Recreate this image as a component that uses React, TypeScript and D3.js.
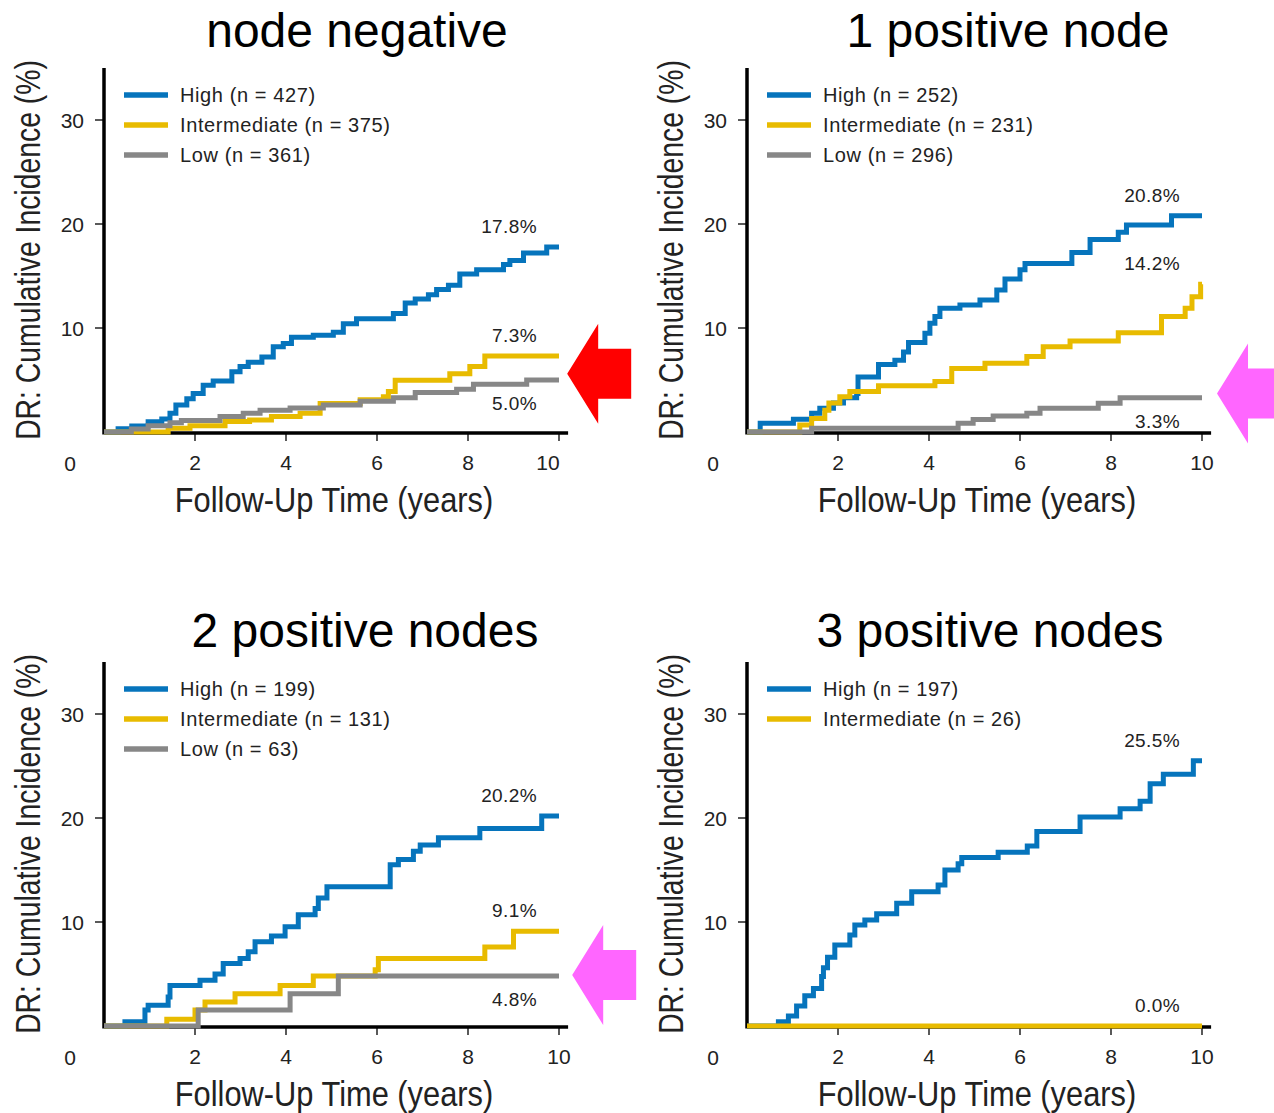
import React from 'react';
import * as d3 from 'd3';

type Pt = [number, number];

const X_TICKS = [2, 4, 6, 8, 10];
const Y_TICKS = [10, 20, 30];
const GROUP_NAMES = ['High', 'Intermediate', 'Low'];
const GROUP_COLORS = ['#0674bc', '#e8bb00', '#878787'];

// node negative
const nnHigh: Pt[] = [[0,0],[0.31,0.32],[0.61,0.58],[0.97,0.99],[1.27,1.25],[1.45,1.8],[1.58,2.6],[1.82,3.2],[1.96,3.7],[2.18,4.5],[2.4,4.9],[2.81,5.8],[2.99,6.3],[3.17,6.7],[3.47,7.2],[3.72,8.2],[3.94,8.5],[4.12,9.1],[4.6,9.3],[5.04,9.6],[5.26,10.4],[5.55,10.9],[6.36,11.4],[6.62,12.4],[6.84,12.8],[7.13,13.2],[7.31,13.7],[7.57,14.1],[7.82,15.2],[8.19,15.6],[8.78,16.1],[8.92,16.5],[9.22,17.2],[9.73,17.8],[10,17.8]];
const nnInt: Pt[] = [[0,0],[1.41,0.35],[1.89,0.6],[2.66,1.0],[3.2,1.15],[3.68,1.5],[4.31,1.8],[4.75,2.75],[5.63,3.1],[6.14,3.4],[6.25,3.9],[6.4,4.97],[7.6,5.6],[8.04,6.3],[8.37,7.3],[10,7.3]];
const nnLow: Pt[] = [[0,0],[0.6,0.3],[0.97,0.6],[1.45,0.9],[1.7,1.1],[2.55,1.5],[3.06,1.8],[3.43,2.1],[4.09,2.3],[4.82,2.6],[5.63,2.95],[6.36,3.3],[6.84,3.8],[7.75,4.1],[8.12,4.6],[9.29,5.0],[10,5.0]];

// 1 positive node
const p1High: Pt[] = [[0,0],[0.29,0.83],[1.02,1.22],[1.42,1.8],[1.6,2.28],[1.9,2.8],[2.12,3.3],[2.41,3.7],[2.44,5.3],[2.89,6.5],[3.25,6.9],[3.44,7.7],[3.55,8.6],[3.91,9.5],[4.02,10.45],[4.13,11.1],[4.24,11.9],[4.68,12.2],[5.12,12.7],[5.49,13.65],[5.67,14.7],[6.0,15.6],[6.11,16.2],[7.14,17.25],[7.54,18.5],[8.16,19.2],[8.34,19.9],[9.33,20.8],[10,20.8]];
const p1Int: Pt[] = [[0,0],[1.16,0.67],[1.42,1.3],[1.71,2.1],[1.8,2.8],[2.04,3.4],[2.26,3.9],[2.89,4.45],[4.13,4.85],[4.5,6.1],[5.23,6.6],[6.15,7.25],[6.51,8.2],[7.1,8.75],[8.16,9.55],[9.11,11.1],[9.63,11.9],[9.78,13.0],[9.97,14.2],[10,14.2]];
const p1Low: Pt[] = [[0,0],[1.42,0.35],[4.64,0.83],[4.97,1.2],[5.41,1.54],[6.15,1.8],[6.44,2.28],[7.72,2.76],[8.2,3.3],[10,3.3]];

// 2 positive nodes
const p2High: Pt[] = [[0,0],[0.46,0.42],[0.9,1.54],[0.97,2.0],[1.41,2.8],[1.45,3.9],[2.11,4.4],[2.44,5.0],[2.62,6.0],[2.99,6.5],[3.17,7.15],[3.32,8.1],[3.68,8.65],[3.98,9.55],[4.27,10.7],[4.64,11.3],[4.71,12.3],[4.9,13.4],[6.29,15.5],[6.47,16.0],[6.8,16.8],[6.95,17.4],[7.35,18.1],[8.26,19.0],[9.62,20.2],[10,20.2]];
const p2Int: Pt[] = [[0,0],[1.38,0.64],[2.0,1.54],[2.22,2.3],[2.88,3.1],[3.87,3.9],[4.6,4.8],[5.96,5.4],[6.03,6.5],[8.37,7.6],[9.0,9.1],[10,9.1]];
const p2Low: Pt[] = [[0,0],[2.07,1.54],[4.09,3.1],[5.15,4.8],[10,4.8]];

// 3 positive nodes
const p3High: Pt[] = [[0,0],[0.69,0.42],[0.91,0.96],[1.09,1.92],[1.27,2.9],[1.46,3.6],[1.64,4.75],[1.68,5.6],[1.77,6.6],[1.93,7.8],[2.26,8.75],[2.37,9.7],[2.59,10.2],[2.85,10.8],[3.29,11.8],[3.62,12.9],[4.2,13.55],[4.35,15.0],[4.64,15.6],[4.72,16.2],[5.52,16.7],[6.16,17.3],[6.37,18.7],[7.32,20.1],[8.2,20.9],[8.64,21.6],[8.86,23.3],[9.15,24.2],[9.81,25.5],[10,25.5]];
const p3Int: Pt[] = [[0,0],[10,0]];

const PANEL_TITLES = ['node negative', '1 positive node', '2 positive nodes', '3 positive nodes'];
const PANEL_N = [[427, 375, 361], [252, 231, 296], [199, 131, 63], [197, 26]];
const PANEL_SERIES = [[nnHigh, nnInt, nnLow], [p1High, p1Int, p1Low], [p2High, p2Int, p2Low], [p3High, p3Int]];
const PANEL_FINALS = [['17.8%', '7.3%', '5.0%'], ['20.8%', '14.2%', '3.3%'], ['20.2%', '9.1%', '4.8%'], ['25.5%', '0.0%']];
const PANEL_LABEL_SIDE = [['above', 'above', 'below'], ['above', 'above', 'below'], ['above', 'above', 'below'], ['above', 'above']];
const Y_TITLE = 'DR: Cumulative Incidence (%)';
const X_TITLE = 'Follow-Up Time (years)';

// layout (pixels) - kept separate from data
const LAYOUT = [
  { x0: 104, y0: 432, titleX: 357, titleY: 47, tenDx: -11, arrow: { t: 10.18, v: 5.6, color: '#ff0000' } },
  { x0: 747, y0: 432, titleX: 1008, titleY: 47, tenDx: 0, arrow: { t: 10.33, v: 3.7, color: '#ff66ff' } },
  { x0: 104, y0: 1026, titleX: 365, titleY: 647, tenDx: 0, arrow: { t: 10.29, v: 4.9, color: '#ff66ff' } },
  { x0: 747, y0: 1026, titleX: 990, titleY: 647, tenDx: 0, arrow: null as any },
];

const FONT = "'Liberation Sans', Arial, sans-serif";
const TXT = '#222';

function Panel({ idx }: { idx: number }) {
  const L = LAYOUT[idx];
  const x = d3.scaleLinear().domain([0, 10]).range([L.x0, L.x0 + 455]);
  const y = d3.scaleLinear().domain([0, 35]).range([L.y0, L.y0 - 364]);
  const line = d3.line<Pt>().x(d => x(d[0])).y(d => y(d[1])).curve(d3.curveStepAfter);
  const series = PANEL_SERIES[idx];
  const top = y(35);
  const arrow = L.arrow;
  let arrowPts = '';
  if (arrow) {
    const tx = x(arrow.t), ty = y(arrow.v);
    arrowPts = [[tx, ty], [tx + 31, ty - 50], [tx + 31, ty - 25], [tx + 64, ty - 25], [tx + 64, ty + 25], [tx + 31, ty + 25], [tx + 31, ty + 50]].map(p => p.join(',')).join(' ');
  }
  return (
    <g>
      <text x={L.titleX} y={L.titleY} textAnchor="middle" fontSize={48} fontFamily={FONT} fill="#000">{PANEL_TITLES[idx]}</text>
      {/* y title: condensed via horizontal scale */}
      <g transform={`translate(${L.x0 - 64},${(L.y0 + top) / 2}) rotate(-90) scale(0.788,1)`}>
        <text x={0} y={0} textAnchor="middle" fontSize={36} fontFamily={FONT} fill={TXT}>{Y_TITLE}</text>
      </g>
      {/* x title */}
      <g transform={`translate(${L.x0 + 230},${L.y0 + 80}) scale(0.856,1)`}>
        <text x={0} y={0} textAnchor="middle" fontSize={36} fontFamily={FONT} fill={TXT}>{X_TITLE}</text>
      </g>
      {/* y ticks */}
      {Y_TICKS.map(t => (
        <g key={'y' + t}>
          <line x1={L.x0 - 9} x2={L.x0} y1={y(t)} y2={y(t)} stroke="#000" strokeWidth={1.3} />
          <text x={L.x0 - 20} y={y(t) + 7.5} textAnchor="end" fontSize={21} fontFamily={FONT} fill={TXT}>{t}</text>
        </g>
      ))}
      {/* x ticks */}
      {X_TICKS.map(t => (
        <g key={'x' + t}>
          <line x1={x(t)} x2={x(t)} y1={L.y0} y2={L.y0 + 9} stroke="#000" strokeWidth={1.3} />
          <text x={x(t) + (t === 10 ? L.tenDx : 0)} y={L.y0 + 38} textAnchor="middle" fontSize={21} fontFamily={FONT} fill={TXT}>{t}</text>
        </g>
      ))}
      <text x={L.x0 - 34} y={L.y0 + 39} textAnchor="middle" fontSize={21} fontFamily={FONT} fill={TXT}>0</text>
      {/* axes */}
      <line x1={L.x0} x2={L.x0} y1={top} y2={L.y0 + 2.5} stroke="#000" strokeWidth={3.5} />
      <line x1={L.x0} x2={x(10.2)} y1={L.y0 + 1} y2={L.y0 + 1} stroke="#000" strokeWidth={3.5} />
      {/* curves */}
      {series.map((s, i) => (
        <path key={'s' + i} d={line(s) || ''} fill="none" stroke={GROUP_COLORS[i]} strokeWidth={5} />
      ))}
      {/* end labels */}
      {series.map((s, i) => {
        const v = s[s.length - 1][1];
        const side = PANEL_LABEL_SIDE[idx][i];
        return (
          <text key={'f' + i} x={x(10) - 22} y={side === 'above' ? y(v) - 14 : y(v) + 30} textAnchor="end" fontSize={19} letterSpacing={0.4} fontFamily={FONT} fill={TXT}>{PANEL_FINALS[idx][i]}</text>
        );
      })}
      {/* legend */}
      {series.map((s, i) => {
        const ly = top + 27 + 30 * i;
        return (
          <g key={'l' + i}>
            <line x1={L.x0 + 20} x2={L.x0 + 64} y1={ly} y2={ly} stroke={GROUP_COLORS[i]} strokeWidth={5.5} />
            <text x={L.x0 + 76} y={ly + 7} fontSize={20} letterSpacing={0.6} fontFamily={FONT} fill={TXT}>{`${GROUP_NAMES[i]} (n = ${PANEL_N[idx][i]})`}</text>
          </g>
        );
      })}
      {arrow && <polygon points={arrowPts} fill={arrow.color} />}
    </g>
  );
}

export default function App() {
  return (
    <svg width={1274} height={1113} style={{ position: 'absolute', left: 0, top: 0, background: '#fff' }}>
      <rect x={0} y={0} width={1274} height={1113} fill="#fff" />
      {[0, 1, 2, 3].map(i => <Panel key={i} idx={i} />)}
    </svg>
  );
}
